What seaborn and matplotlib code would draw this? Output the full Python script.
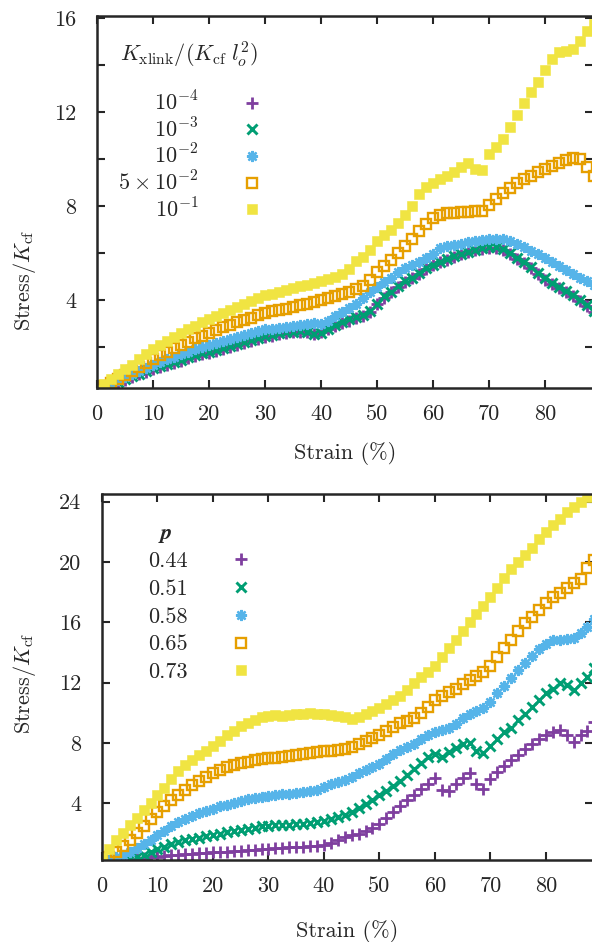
import numpy as np
import pandas as pd
import matplotlib
matplotlib.use("Agg")
import matplotlib.pyplot as plt
import seaborn as sns
from matplotlib.ticker import MultipleLocator

# strain sampled every 1.25 %
strain = np.linspace(0, 88.75, 72)

# ---- top panel: cross-linker stiffness ----
xlink_labels = [r"$10^{-4}$", r"$10^{-3}$", r"$10^{-2}$", r"$5\times10^{-2}$", r"$10^{-1}$"]
xlink_1e4 = [0.05, 0.18, 0.33, 0.47, 0.6, 0.72, 0.84, 0.95, 1.06, 1.15, 1.24, 1.33, 1.42, 1.51, 1.6, 1.68,
             1.76, 1.84, 1.92, 2.0, 2.08, 2.16, 2.24, 2.33, 2.41, 2.48, 2.54, 2.58, 2.62, 2.64, 2.62, 2.56,
             2.62, 2.75, 2.88, 3.0, 3.12, 3.25, 3.32, 3.5, 3.82, 4.1, 4.32, 4.57, 4.76, 4.92, 5.12, 5.32,
             5.47, 5.6, 5.72, 5.84, 5.94, 6.03, 6.12, 6.18, 6.22, 6.22, 6.15, 5.96, 5.76, 5.56, 5.35, 5.1,
             4.87, 4.67, 4.5, 4.33, 4.15, 3.97, 3.75, 3.5]
xlink_1e3 = [0.05, 0.2, 0.35, 0.5, 0.62, 0.74, 0.86, 0.98, 1.1, 1.19, 1.28, 1.37, 1.46, 1.55, 1.64, 1.72,
             1.8, 1.88, 1.96, 2.04, 2.12, 2.2, 2.28, 2.37, 2.45, 2.52, 2.58, 2.62, 2.65, 2.68, 2.65, 2.55,
             2.6, 2.78, 2.95, 3.08, 3.18, 3.28, 3.38, 3.55, 3.85, 4.15, 4.35, 4.6, 4.8, 4.95, 5.15, 5.35,
             5.5, 5.62, 5.74, 5.86, 5.96, 6.05, 6.14, 6.2, 6.24, 6.25, 6.18, 6.0, 5.8, 5.6, 5.4, 5.15,
             4.92, 4.72, 4.55, 4.38, 4.2, 4.02, 3.8, 3.55]
xlink_1e2 = [0.1, 0.27, 0.43, 0.58, 0.72, 0.86, 0.99, 1.12, 1.25, 1.36, 1.47, 1.58, 1.69, 1.8, 1.9, 2.0,
             2.1, 2.18, 2.27, 2.35, 2.43, 2.51, 2.59, 2.67, 2.75, 2.77, 2.8, 2.84, 2.88, 2.93, 2.98, 3.0,
             2.98, 3.1, 3.3, 3.5, 3.65, 3.85, 4.1, 4.35, 4.55, 4.75, 4.95, 5.2, 5.35, 5.48, 5.6, 5.8,
             5.95, 6.2, 6.3, 6.35, 6.4, 6.45, 6.5, 6.55, 6.6, 6.6, 6.58, 6.5, 6.4, 6.25, 6.1, 5.95,
             5.8, 5.62, 5.45, 5.28, 5.1, 4.95, 4.8, 4.65]
xlink_5e2 = [0.15, 0.32, 0.48, 0.64, 0.8, 0.98, 1.15, 1.33, 1.5, 1.65, 1.8, 1.95, 2.1, 2.23, 2.36, 2.48,
             2.6, 2.72, 2.83, 2.94, 3.05, 3.15, 3.25, 3.35, 3.45, 3.51, 3.57, 3.63, 3.7, 3.77, 3.85, 3.92,
             4.0, 4.08, 4.17, 4.26, 4.35, 4.45, 4.6, 4.85, 5.2, 5.45, 5.7, 6.0, 6.3, 6.6, 6.95, 7.25,
             7.5, 7.62, 7.7, 7.72, 7.74, 7.76, 7.78, 7.8, 8.05, 8.3, 8.55, 8.78, 9.0, 9.15, 9.3, 9.45,
             9.6, 9.72, 9.85, 9.97, 10.05, 10.02, 9.65, 9.3]
xlink_1e1 = [0.15, 0.4, 0.62, 0.85, 1.05, 1.25, 1.47, 1.68, 1.9, 2.08, 2.26, 2.43, 2.6, 2.75, 2.9, 3.05,
             3.2, 3.33, 3.46, 3.58, 3.7, 3.82, 3.95, 4.08, 4.2, 4.27, 4.35, 4.42, 4.5, 4.58, 4.65, 4.72,
             4.8, 4.9, 5.0, 5.12, 5.3, 5.65, 5.85, 6.15, 6.5, 6.75, 7.0, 7.3, 7.6, 8.0, 8.5, 8.8,
             9.0, 9.15, 9.3, 9.45, 9.65, 9.85, 9.6, 9.55, 10.2, 10.5, 10.85, 11.35, 11.9, 12.4, 12.85, 13.3,
             13.8, 14.25, 14.55, 14.62, 14.7, 15.05, 15.45, 15.75]

# ---- bottom panel: connectivity p ----
p_labels = ["0.44", "0.51", "0.58", "0.65", "0.73"]
p_044 = [0.0, 0.08, 0.14, 0.2, 0.26, 0.32, 0.38, 0.43, 0.47, 0.51, 0.55, 0.59, 0.62, 0.66, 0.69, 0.72,
         0.75, 0.78, 0.81, 0.84, 0.87, 0.9, 0.93, 0.96, 0.99, 1.02, 1.05, 1.08, 1.1, 1.12, 1.15, 1.2,
         1.26, 1.38, 1.55, 1.75, 1.9, 2.0, 2.15, 2.4, 2.65, 3.0, 3.4, 3.85, 4.2, 4.55, 4.95, 5.3,
         5.7, 4.9, 4.8, 5.3, 5.65, 6.0, 5.3, 4.95, 5.6, 6.1, 6.5, 6.85, 7.2, 7.6, 7.95, 8.25,
         8.5, 8.7, 8.85, 8.5, 8.05, 8.5, 8.8, 9.4]
p_051 = [0.05, 0.1, 0.16, 0.22, 0.3, 0.45, 0.6, 0.78, 0.95, 1.12, 1.28, 1.42, 1.55, 1.65, 1.74, 1.83,
         1.92, 2.0, 2.08, 2.16, 2.24, 2.32, 2.4, 2.47, 2.52, 2.56, 2.58, 2.6, 2.62, 2.66, 2.7, 2.76,
         2.85, 2.95, 3.1, 3.25, 3.45, 3.7, 3.95, 4.25, 4.55, 4.85, 5.15, 5.5, 5.85, 6.3, 6.7, 7.1,
         7.3, 7.05, 7.4, 7.7, 7.95, 8.0, 7.45, 7.35, 7.8, 8.25, 8.7, 9.0, 9.5, 9.95, 10.4, 10.85,
         11.3, 11.6, 11.95, 11.85, 11.5, 11.95, 12.4, 13.0]
p_058 = [0.1, 0.25, 0.42, 0.58, 0.8, 1.05, 1.3, 1.6, 1.9, 2.2, 2.48, 2.75, 2.98, 3.18, 3.36, 3.52,
         3.66, 3.8, 3.92, 4.04, 4.15, 4.26, 4.36, 4.44, 4.5, 4.56, 4.6, 4.62, 4.68, 4.75, 4.82, 4.9,
         5.1, 5.3, 5.45, 5.55, 5.75, 6.0, 6.2, 6.4, 6.6, 6.95, 7.3, 7.55, 7.75, 7.95, 8.25, 8.5,
         8.7, 8.85, 9.0, 9.25, 9.65, 9.95, 10.1, 10.3, 10.7, 11.3, 11.8, 12.3, 12.85, 13.3, 13.75, 14.2,
         14.55, 14.8, 14.85, 14.9, 14.95, 15.3, 15.7, 16.2]
p_065 = [0.2, 0.45, 0.75, 1.15, 1.6, 2.05, 2.5, 2.95, 3.4, 3.8, 4.2, 4.55, 4.9, 5.2, 5.5, 5.78,
         6.02, 6.2, 6.38, 6.52, 6.66, 6.76, 6.86, 6.94, 7.0, 7.04, 7.08, 7.15, 7.22, 7.27, 7.32, 7.4,
         7.45, 7.5, 7.55, 7.62, 7.75, 7.95, 8.15, 8.35, 8.55, 8.8, 9.05, 9.3, 9.45, 9.65, 10.0, 10.4,
         10.85, 11.1, 11.35, 11.6, 11.9, 12.2, 12.45, 12.7, 13.1, 13.7, 14.3, 14.85, 15.45, 15.95, 16.35, 16.8,
         17.25, 17.7, 17.95, 18.25, 18.6, 18.85, 19.6, 20.1]
p_073 = [0.35, 0.95, 1.55, 2.05, 2.55, 3.05, 3.55, 4.05, 4.55, 5.05, 5.6, 6.15, 6.55, 6.9, 7.2, 7.5,
         7.8, 8.15, 8.5, 8.8, 9.1, 9.35, 9.55, 9.7, 9.8, 9.85, 9.8, 9.85, 9.9, 9.95, 10.0, 9.95,
         9.9, 9.85, 9.8, 9.7, 9.6, 9.75, 9.95, 10.15, 10.35, 10.6, 10.85, 11.1, 11.5, 11.95, 12.35, 12.7,
         13.1, 13.7, 14.3, 14.85, 15.4, 16.0, 16.55, 17.1, 17.7, 18.3, 18.95, 19.5, 20.0, 20.45, 20.95, 21.5,
         22.0, 22.45, 22.85, 23.3, 23.65, 23.95, 24.3, 24.7]

colors = ["#7f3f9f", "#009e73", "#56b4e9", "#e69f00", "#f0e442"]
# gnuplot-like point types: plus, cross, asterisk, open square, filled square
styles = [
    dict(marker="+", ms=8.0, mew=2.0),
    dict(marker="x", ms=6.5, mew=2.1),
    dict(marker=(8, 2, 0), ms=8.0, mew=1.7),
    dict(marker="s", ms=6.8, mew=1.7, mfc="none"),
    dict(marker="s", ms=6.8, mew=0.4),
]

top_df = pd.DataFrame({"strain": strain, **dict(zip(xlink_labels, [xlink_1e4, xlink_1e3, xlink_1e2, xlink_5e2, xlink_1e1]))})
bot_df = pd.DataFrame({"strain": strain, **dict(zip(p_labels, [p_044, p_051, p_058, p_065, p_073]))})

sns.set_style("ticks")
plt.rcParams["font.family"] = ["cmr10", "DejaVu Serif"]
plt.rcParams["mathtext.fontset"] = "cm"
plt.rcParams["axes.unicode_minus"] = False
plt.rcParams["axes.formatter.use_mathtext"] = False

fig = plt.figure(figsize=(5.92, 9.42), dpi=100)
ax1 = fig.add_axes([97 / 592, 1 - 388 / 942, 496 / 592, 372 / 942])
ax2 = fig.add_axes([102 / 592, 1 - 860 / 942, 491 / 592, 366 / 942])


def draw(ax, df, labels):
    for lab, col, st in zip(labels, colors, styles):
        kw = dict(st)
        kw.setdefault("mfc", col)
        sns.lineplot(data=df, x="strain", y=lab, ax=ax, color=col, linestyle="", mec=col,
                     estimator=None, sort=False, label=lab, legend=False, **kw)
    ax.set_xlim(0, 88.5)
    ax.xaxis.set_major_locator(MultipleLocator(10))
    ax.tick_params(direction="in", which="both", top=True, right=True, length=6, width=1.5,
                   labelsize=16)
    ax.tick_params(axis="x", pad=12)
    ax.tick_params(axis="y", pad=15)
    for s in ax.spines.values():
        s.set_linewidth(1.8)
    ax.set_xlabel("Strain (%)", fontsize=16)
    ax.set_ylabel(r"Stress$/K_{\rm cf}$", fontsize=16)
    handles = ax.get_lines()[:5]
    return handles


h1 = draw(ax1, top_df, xlink_labels)
ax1.set_ylim(0.25, 16.1)
ax1.yaxis.set_major_locator(MultipleLocator(4))
ax1.yaxis.set_minor_locator(MultipleLocator(2))
ax1.tick_params(which="minor", length=6, width=1.5)
ax1.xaxis.set_label_coords(0.5, -0.145)
ax1.yaxis.set_label_coords(-0.119, 0.29)
ax1.legend(handles=h1, labels=xlink_labels, frameon=False, markerfirst=False, fontsize=16,
           handlelength=1.0, handletextpad=1.9, labelspacing=0.12, borderpad=0, borderaxespad=0,
           loc="upper right", bbox_to_anchor=(0.335, 0.80))
ax1.text(0.046, 0.895, r"$K_{\rm xlink}/(K_{\rm cf}\;l_o^2)$", transform=ax1.transAxes,
         fontsize=16, ha="left", va="center")

h2 = draw(ax2, bot_df, p_labels)
ax2.set_ylim(0.25, 24.5)
ax2.yaxis.set_major_locator(MultipleLocator(4))
ax2.xaxis.set_label_coords(0.5, -0.164)
ax2.yaxis.set_label_coords(-0.130, 0.484)
ax2.legend(handles=h2, labels=p_labels, frameon=False, markerfirst=False, fontsize=16,
           handlelength=1.0, handletextpad=1.9, labelspacing=0.37, borderpad=0, borderaxespad=0,
           loc="upper right", bbox_to_anchor=(0.305, 0.843))
ax2.text(0.128, 0.887, r"$\boldsymbol{p}$", transform=ax2.transAxes,
         fontsize=16, ha="center", va="center")

fig.savefig("out.png", dpi=100)
